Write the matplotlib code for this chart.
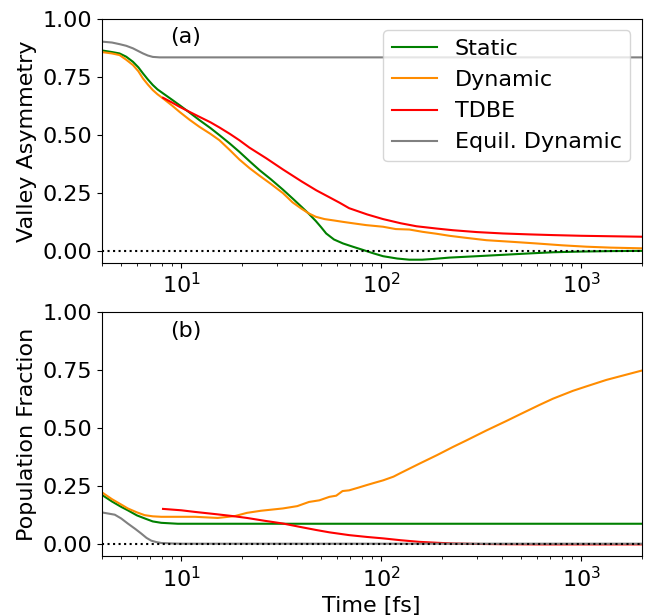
import numpy as np
from matplotlib import pyplot as plt

# (a) valley asymmetry vs time [fs]
t_static_a = [4, 4.5, 4.91, 5.3, 5.73, 6.1, 6.43, 6.8, 7.2, 7.6, 8.1, 9, 9.8, 11, 12.3, 14, 15.5,
              17.5, 19.5, 21.9, 24.6, 28, 32.2, 36.2, 40, 43.5, 47, 50, 53, 58, 64.3, 72, 81, 90,
              102, 120, 138, 160, 181, 219, 300, 406, 550, 721, 1000, 1400, 2000]
static_a = [0.865, 0.858, 0.852, 0.838, 0.816, 0.792, 0.766, 0.74, 0.716, 0.697, 0.68, 0.652, 0.629,
            0.597, 0.565, 0.53, 0.5, 0.463, 0.428, 0.388, 0.349, 0.31, 0.265, 0.225, 0.19, 0.16,
            0.13, 0.103, 0.076, 0.05, 0.033, 0.019, 0.005, -0.008, -0.022, -0.032, -0.037, -0.037,
            -0.034, -0.028, -0.022, -0.016, -0.01, -0.005, -0.002, 0.0, 0.001]

t_dynamic_a = [4, 4.5, 4.91, 5.3, 5.73, 6.1, 6.43, 6.8, 7.2, 7.6, 8.1, 9, 9.8, 11, 12.3, 14, 15.5,
               17.5, 19.5, 21.9, 24.6, 28, 32.2, 36, 40, 43.5, 47, 52, 58, 64.3, 72, 84, 102, 118,
               138, 161, 188, 219, 260, 335, 450, 596, 800, 1059, 1400, 2000]
dynamic_a = [0.858, 0.852, 0.845, 0.825, 0.802, 0.775, 0.744, 0.718, 0.694, 0.676, 0.658, 0.627, 0.6,
             0.566, 0.536, 0.505, 0.478, 0.435, 0.395, 0.358, 0.325, 0.29, 0.25, 0.21, 0.182, 0.162,
             0.148, 0.138, 0.132, 0.126, 0.12, 0.112, 0.105, 0.095, 0.093, 0.083, 0.075, 0.066,
             0.058, 0.047, 0.04, 0.033, 0.025, 0.019, 0.015, 0.012]

t_tdbe_a = [8.1, 9, 9.8, 11, 12.3, 14, 15.5, 17.5, 19.5, 21.9, 26.6, 32.2, 40, 47.3, 55, 62, 69, 85,
            102, 125, 150, 190, 228, 300, 406, 550, 721, 1000, 1400, 2000]
tdbe_a = [0.661, 0.64, 0.622, 0.6, 0.579, 0.555, 0.533, 0.505, 0.478, 0.446, 0.4, 0.352, 0.3, 0.262,
          0.232, 0.208, 0.185, 0.158, 0.138, 0.12, 0.107, 0.097, 0.09, 0.082, 0.076, 0.072, 0.069,
          0.066, 0.064, 0.062]

t_equil_a = [4, 4.5, 4.91, 5.3, 5.73, 6.1, 6.43, 6.8, 7.2, 7.8, 10, 100, 2000]
equil_a = [0.903, 0.899, 0.892, 0.885, 0.874, 0.862, 0.852, 0.843, 0.837, 0.835, 0.835, 0.835, 0.835]

# (b) population fraction vs time [fs]
t_static_b = [4, 4.5, 5.0, 5.4, 6.0, 6.56, 7.2, 7.94, 9.6, 20, 100, 2000]
static_b = [0.214, 0.185, 0.162, 0.147, 0.125, 0.112, 0.099, 0.093, 0.089, 0.089, 0.089, 0.089]

t_dynamic_b = [4, 4.5, 5.0, 5.4, 6.0, 6.56, 7.2, 7.94, 10, 11.7, 15.2, 18.5, 21.3, 25, 32.2, 38,
               43.5, 49, 55, 59.5, 64, 69, 77, 84, 92, 102, 115, 125, 155, 190, 228, 266, 335, 422,
               500, 617, 721, 908, 1059, 1334, 1600, 2000]
dynamic_b = [0.225, 0.195, 0.172, 0.155, 0.138, 0.126, 0.121, 0.119, 0.119, 0.119, 0.114, 0.122,
             0.136, 0.145, 0.155, 0.165, 0.183, 0.19, 0.205, 0.21, 0.23, 0.233, 0.245, 0.255, 0.265,
             0.276, 0.292, 0.308, 0.348, 0.385, 0.42, 0.448, 0.491, 0.532, 0.563, 0.601, 0.628,
             0.662, 0.681, 0.709, 0.727, 0.749]

t_tdbe_b = [8.1, 10, 11.7, 15, 18.1, 21.3, 26, 32.2, 40, 47.3, 55, 69, 85, 102, 125, 155, 190, 228,
            300, 400, 600, 1000, 2000]
tdbe_b = [0.153, 0.147, 0.14, 0.13, 0.122, 0.114, 0.102, 0.09, 0.074, 0.062, 0.052, 0.04, 0.032,
          0.026, 0.018, 0.011, 0.007, 0.004, 0.002, 0.001, 0.0, 0.0, 0.0]

t_equil_b = [4, 4.65, 5.0, 5.4, 5.9, 6.3, 6.7, 7.08, 7.5, 7.94, 9, 10, 100, 2000]
equil_b = [0.138, 0.128, 0.112, 0.09, 0.066, 0.047, 0.028, 0.016, 0.01, 0.006, 0.004, 0.003, 0.003,
           0.003]

yticks = [0.0, 0.25, 0.5, 0.75, 1.0]

plt.rcParams['font.size'] = 16

fig, (ax1, ax2) = plt.subplots(2, 1, figsize=(6.5, 6.16), dpi=100)
fig.subplots_adjust(left=0.1565, right=0.987, top=0.969, bottom=0.0974, hspace=0.204)

lw = 1.5
ax1.plot(t_static_a, static_a, color='green', lw=lw, label='Static')
ax1.plot(t_dynamic_a, dynamic_a, color='darkorange', lw=lw, label='Dynamic')
ax1.plot(t_tdbe_a, tdbe_a, color='red', lw=lw, label='TDBE')
ax1.plot(t_equil_a, equil_a, color='gray', lw=lw, label='Equil. Dynamic')
ax1.axhline(0, color='k', ls=':', lw=1.5, zorder=5)
ax1.set_ylabel('Valley Asymmetry')
ax1.legend(loc='upper right')
ax1.text(0.1265, 0.926, '(a)', transform=ax1.transAxes, ha='left', va='center')

ax2.plot(t_static_b, static_b, color='green', lw=lw)
ax2.plot(t_dynamic_b, dynamic_b, color='darkorange', lw=lw)
ax2.plot(t_tdbe_b, tdbe_b, color='red', lw=lw)
ax2.plot(t_equil_b, equil_b, color='gray', lw=lw)
ax2.axhline(0, color='k', ls=':', lw=1.5, zorder=5)
ax2.set_ylabel('Population Fraction')
ax2.set_xlabel('Time [fs]')
ax2.text(0.1265, 0.925, '(b)', transform=ax2.transAxes, ha='left', va='center')

for ax in (ax1, ax2):
    ax.set_xscale('log')
    ax.set_xlim(4, 2000)
    ax.set_ylim(-0.05, 1.0)
    ax.set_yticks(yticks)

fig.savefig('out.png', dpi=100)
